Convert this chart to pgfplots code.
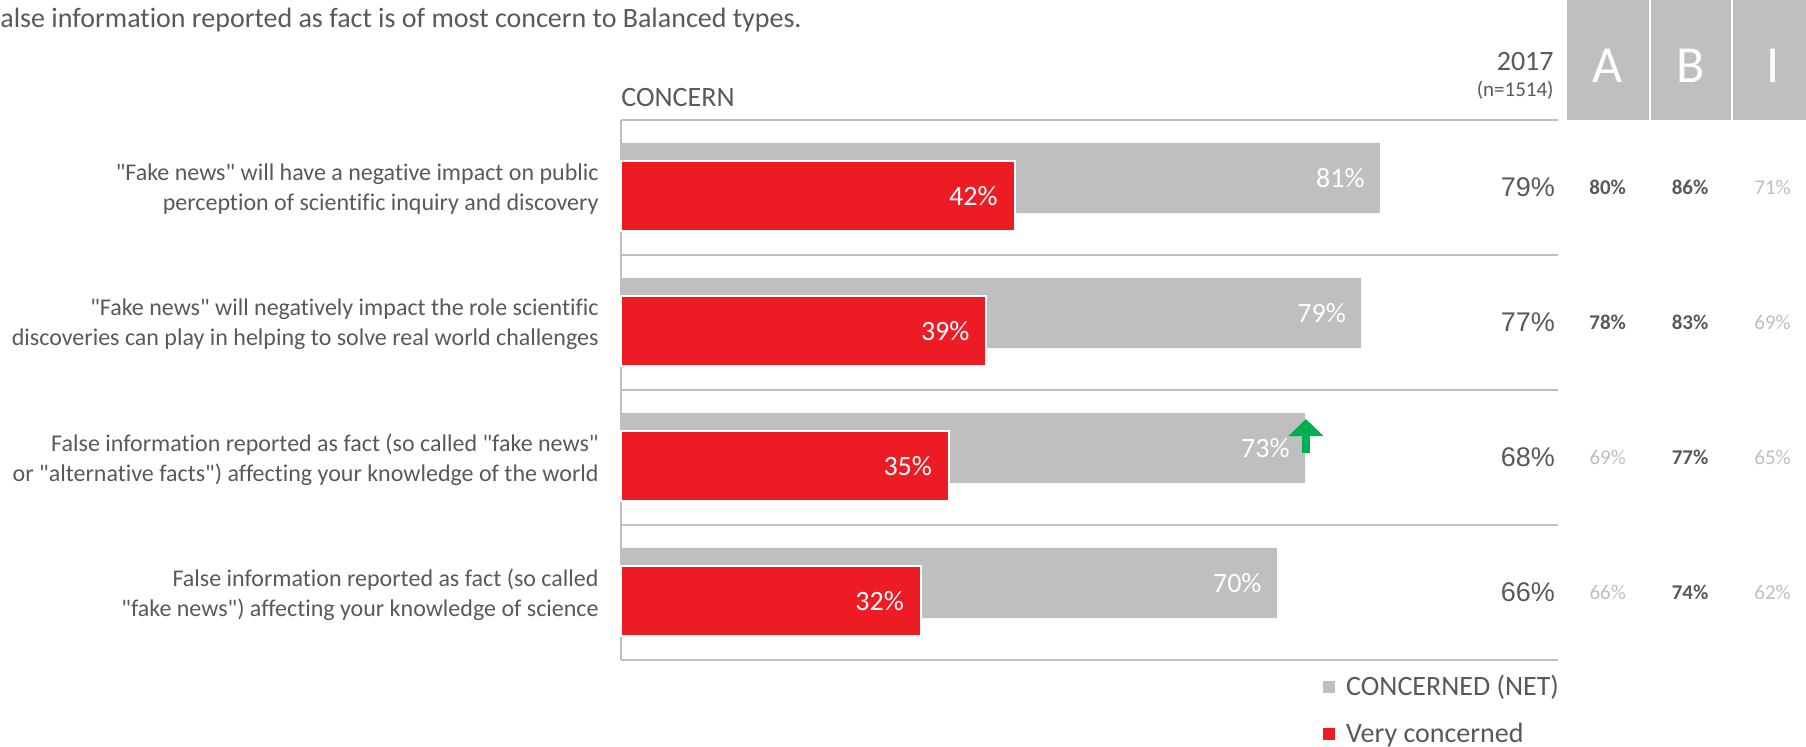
\documentclass[border=0pt]{standalone}
\usepackage{fontspec}
\setmainfont{Carlito}[Ligatures={TeXOff,CommonOff}]
\newfontfamily\arialfont{Liberation Sans}
\usepackage{pgfplots}
\pgfplotsset{compat=1.18}
\usetikzlibrary{arrows.meta}
\definecolor{cgray}{HTML}{BFBFBF}
\definecolor{vred}{HTML}{ED1C24}
\definecolor{tgray}{HTML}{595959}
\definecolor{lgray}{HTML}{BFBFBF}
\definecolor{agreen}{HTML}{00B050}
\begin{document}
\begin{tikzpicture}
\begin{scope}[x=0.5pt,y=-0.5pt]
\node[anchor=base west, inner sep=0pt, text=tgray, font=\fontsize{14}{16}\selectfont] at (0,28) {\llap{F}alse information reported as fact is of most concern to Balanced types.};
\node[anchor=base west, inner sep=0pt, text=tgray, font=\fontsize{14}{16}\selectfont] at (621,107) {CONCERN};
\fill[cgray] (1567,-5) rectangle (1649,120);
\fill[cgray] (1651,-5) rectangle (1731,120);
\fill[cgray] (1733,-5) rectangle (1830,120);
\node[anchor=base, inner sep=0pt, text=white, font=\fontsize{26}{30}\selectfont] at (1608,83) {A};
\node[anchor=base, inner sep=0pt, text=white, font=\fontsize{26}{30}\selectfont] at (1691,83) {B};
\node[anchor=base, inner sep=0pt, text=white, font=\fontsize{26}{30}\selectfont] at (1773,83) {I};
\node[anchor=base east, inner sep=0pt, text=tgray, font=\fontsize{14}{16}\selectfont] at (1554,71) {2017};
\node[anchor=base east, inner sep=0pt, text=tgray, font=\fontsize{10.5}{12}\selectfont] at (1554,97) {(n=1514)};
\end{scope}
\begin{axis}[
  at={(310.5pt,-330pt)}, anchor=south west,
  scale only axis, width=468.5pt, height=270pt,
  xmin=0, xmax=100, ymin=-0.5, ymax=3.5,
  y dir=reverse, clip=false,
  hide x axis,
  axis y line*=left,
  y axis line style={draw=lgray, line width=0.6pt},
  ytick={0,1,2,3},
  yticklabels={{"Fake news" will have a negative impact on public\\perception of scientific inquiry and discovery},
               {"Fake news" will negatively impact the role scientific\\discoveries can play in helping to solve real world challenges},
               {False information reported as fact (so called "fake news"\\or "alternative facts") affecting your knowledge of the world},
               {False information reported as fact (so called\\"fake news") affecting your knowledge of science}},
  major tick length=0pt, minor tick length=0pt,
  minor ytick={-0.5,0.5,1.5,2.5,3.5},
  yminorgrids,
  minor grid style={draw=lgray, line width=0.8pt},
  yticklabel style={align=right, text=tgray, font=\fontsize{12}{15}\selectfont, inner sep=0pt, xshift=-11pt, yshift=-1pt},
  bar width=0.52,
  legend style={at={(0.749,-0.02)}, anchor=north west, draw=none, fill=none,
    font=\fontsize{14}{16}\selectfont, text=tgray, row sep=8pt, inner sep=0pt},
  legend cell align=left,
  legend image code/.code={\fill[#1, draw=none] (0pt,-3pt) rectangle (6pt,3pt); \path[draw=none, fill=none] (9.5pt,0pt);},
]
\addplot[xbar, fill=cgray, draw=none, bar shift=-0.07,
  nodes near coords={\pgfmathprintnumber[assume math mode=true]{\pgfplotspointmeta}\%},
  every node near coord/.append style={anchor=east, text=white, font=\fontsize{14}{16}\selectfont, xshift=-7.5pt, yshift=4.7pt, inner sep=0pt}]
  coordinates {(81,0) (79,1) (73,2) (70,3)};
\addlegendentry{CONCERNED (NET)}
\addplot[xbar, fill=vred, draw=white, line width=1pt, bar shift=0.063,
  nodes near coords={\pgfmathprintnumber[assume math mode=true]{\pgfplotspointmeta}\%},
  every node near coord/.append style={anchor=east, text=white, font=\fontsize{14}{16}\selectfont, xshift=-8pt, yshift=-4.25pt, inner sep=0pt}]
  coordinates {(42,0) (39,1) (35,2) (32,3)};
\addlegendentry{Very concerned}
% 2017 column
\addplot[forget plot, draw=none, mark=none, nodes near coords, point meta=explicit symbolic,
  every node near coord/.append style={anchor=east, text=tgray, font=\arialfont\fontsize{13.5}{16}\selectfont, inner sep=0pt}]
  coordinates {(99.7,0)[79\%] (99.7,1)[77\%] (99.7,2)[68\%] (99.7,3)[66\%]};
% A B I significant (bold)
\addplot[forget plot, draw=none, mark=none, nodes near coords, point meta=explicit symbolic,
  every node near coord/.append style={anchor=center, text=tgray, font=\bfseries\fontsize{10.5}{12}\selectfont, inner sep=0pt}]
  coordinates {(105.3,0)[80\%] (114.1,0)[86\%] (105.3,1)[78\%] (114.1,1)[83\%] (114.1,2)[77\%] (114.1,3)[74\%]};
% A B I other (light)
\addplot[forget plot, draw=none, mark=none, nodes near coords, point meta=explicit symbolic,
  every node near coord/.append style={anchor=center, text=lgray, font=\fontsize{10.5}{12}\selectfont, inner sep=0pt}]
  coordinates {(122.9,0)[71\%] (122.9,1)[69\%] (105.3,2)[69\%] (122.9,2)[65\%] (105.3,3)[66\%] (122.9,3)[62\%]};
% green up arrow
\addplot[forget plot, mark=none, quiver={u=0,v=-0.25}, -{Triangle[width=17pt,length=8.5pt]}, line width=4pt, draw=agreen]
  coordinates {(73.1,1.965)};
\end{axis}
\pgfresetboundingbox
\path[use as bounding box] (0pt,0pt) rectangle (903pt,-373.5pt);
\end{tikzpicture}
\end{document}
